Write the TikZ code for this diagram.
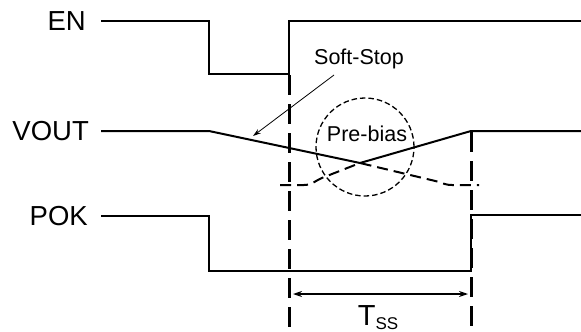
\documentclass[tikz,border=0pt]{standalone}
\usepackage{fontspec}
\setmainfont{Liberation Sans}
\usetikzlibrary{arrows.meta,calc}
\begin{document}
\begin{tikzpicture}[x=1pt,y=-1pt,
  sig/.style={line width=2pt},
  guide/.style={line width=3pt,dash pattern=on 20pt off 9pt},
  biasdash/.style={line width=2pt,dash pattern=on 11pt off 6pt},
  ringdash/.style={line width=1.3pt,dash pattern=on 5.5pt off 3pt},
  thinarrow/.style={line width=0.8pt,-{Stealth[length=8pt,width=5pt]}},
  dimarrow/.style={line width=1.2pt,{Stealth[length=9pt,width=6pt]}-{Stealth[length=9pt,width=6pt]}},
  siglabel/.style={anchor=east,inner sep=0pt,font=\fontsize{27.5}{29}\selectfont},
  note/.style={inner sep=0pt,font=\fontsize{21.5}{23}\selectfont}]
\useasboundingbox (0,0) rectangle (581,332);
% labels
\node[siglabel] (en) at (86,21) {EN};
\node[siglabel] (vout) at (89,131) {VOUT};
\node[siglabel] (pok) at (88,216) {POK};
% coordinates
\coordinate (en0) at (101,21);
\coordinate (en1) at (209,21);
\coordinate (en2) at (209,74);
\coordinate (en3) at (289,74);
\coordinate (en4) at (289,21);
\coordinate (en5) at (581,21);
\coordinate (v0) at (101,131);
\coordinate (v1) at (209,131);
\coordinate (vx) at (360,163);
\coordinate (v2) at (471,131);
\coordinate (v3) at (581,131);
\coordinate (d0) at (280,185);
\coordinate (d1) at (304,185);
\coordinate (d2) at (452,185);
\coordinate (d3) at (479,185);
\coordinate (p0) at (101,216);
\coordinate (p1) at (209,216);
\coordinate (p2) at (209,271);
\coordinate (p3) at (471,271);
\coordinate (p4) at (471,215);
\coordinate (p5) at (581,215);
\coordinate (g1t) at (289,75);
\coordinate (g1b) at (289,332);
\coordinate (g2t) at (471,132);
\coordinate (g2b) at (471,332);
\coordinate (ta) at (293,294);
\coordinate (tb) at (468,294);
% waveforms
\draw[sig] (en0) -- (en1) -- (en2) -- (en3) -- (en4) -- (en5);
\draw[sig] (v0) -- (v1) -- (vx) -- (v2) -- (v3);
\draw[biasdash] (d0) -- (d1) to[out=0,in=200] ($(d1)!0.35!(vx)$) -- (vx) -- ($(vx)!0.85!(d2)$) to[out=-20,in=180] (d2) -- (d3);
\draw[sig] (p0) -- (p1) -- (p2) -- (p3) -- (p4) -- (p5);
% guides
\draw[guide] (g1t) -- (g1b);
\draw[guide] (g2t) -- (g2b);
% annotations
\node[draw,circle,ringdash,minimum size=98pt,inner sep=0pt] (circ) at (365,147) {};
\node[note] (pre) at (367,134) {Pre-bias};
\node[note] (soft) at (359,59) {Soft-Stop};
\coordinate (sa) at (334,75);
\coordinate (sb) at (253,136);
\draw[thinarrow] (sa) -- (sb);
\draw[dimarrow] (ta) -- (tb);
\node[inner sep=0pt,anchor=base] (tss) at (378,325) {\fontsize{29}{31}\selectfont T\raisebox{-4pt}{\fontsize{17}{19}\selectfont SS}};
\end{tikzpicture}
\end{document}
